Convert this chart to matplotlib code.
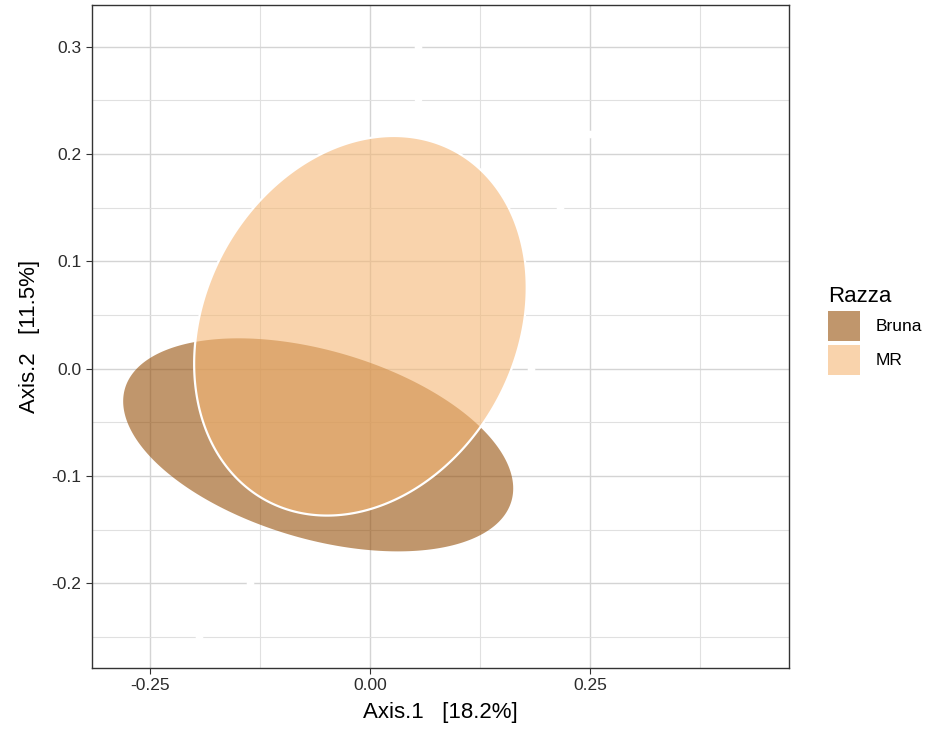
import numpy as np
import matplotlib.pyplot as plt
from matplotlib.patches import Polygon, Patch

# PCoA ordination: group ellipses for each breed
groups = ['Bruna', 'MR']
fill_colors = ['#96500A', '#F5B775']
centers = [(-0.059, -0.071), (-0.011, 0.040)]
covs = [np.array([[0.0491, -0.0090], [-0.0090, 0.00986]]),
        np.array([[0.0357, 0.0067], [0.0067, 0.0313]])]

# sample points (drawn in white)
pts_x = [0.0545, 0.0545, 0.250, 0.216, 0.183, -0.136, -0.194]
pts_y = [0.300, 0.251, 0.219, 0.150, 0.000, -0.200, -0.250]

x_ticks = [-0.25, 0.00, 0.25]
y_ticks = [-0.2, -0.1, 0.0, 0.1, 0.2, 0.3]

plt.rcParams['font.family'] = ['Liberation Sans', 'DejaVu Sans']

fig = plt.figure(figsize=(9.35, 7.36), dpi=100)
ax = fig.add_axes([0.0984, 0.0924, 0.7455, 0.9008])

ax.scatter(pts_x, pts_y, s=30, color='white', zorder=2, linewidths=0)

t = np.linspace(0, 2 * np.pi, 400)
circle = np.vstack([np.cos(t), np.sin(t)])
for c, cov, col, name in zip(centers, covs, fill_colors, groups):
    L = np.linalg.cholesky(cov)
    pts = (L @ circle).T + np.array(c)
    ax.add_patch(Polygon(pts, closed=True, facecolor=col, alpha=0.6,
                         edgecolor='none', zorder=3))
    if name == 'MR':
        ax.add_patch(Polygon(pts, closed=True, facecolor='none',
                             edgecolor='white', linewidth=1.6, zorder=4))

ax.set_xlim(-0.316, 0.476)
ax.set_ylim(-0.279, 0.339)
ax.set_xticks(x_ticks)
ax.set_xticklabels(['-0.25', '0.00', '0.25'])
ax.set_yticks(y_ticks)
ax.set_yticklabels(['-0.2', '-0.1', '0.0', '0.1', '0.2', '0.3'])
ax.set_xticks([-0.125, 0.125, 0.375], minor=True)
ax.set_yticks(np.arange(-0.25, 0.35, 0.1), minor=True)

ax.grid(which='major', color='#D4D4D4', linewidth=1.0, zorder=0)
ax.grid(which='minor', color='#E0E0E0', linewidth=0.8, zorder=0)
ax.set_axisbelow(True)
ax.tick_params(which='minor', length=0)
ax.tick_params(which='major', length=4, color='#333333', labelsize=12.5,
               labelcolor='#2b2b2b', width=0.8)
for s in ax.spines.values():
    s.set_color('#333333')
    s.set_linewidth(1.0)

ax.set_xlabel('Axis.1   [18.2%]', fontsize=16, labelpad=6)
ax.set_ylabel('Axis.2   [11.5%]', fontsize=16, labelpad=8)

handles = [Patch(facecolor=c, alpha=0.6, edgecolor='none') for c in fill_colors]
leg = fig.legend(handles, groups, title='Razza', loc='upper left',
                 bbox_to_anchor=(0.869, 0.632), frameon=False,
                 fontsize=12.5, title_fontsize=16, handlelength=1.85,
                 handleheight=2.3, labelspacing=0.2, handletextpad=0.9)
leg._legend_box.align = 'left'

fig.savefig('out.png', dpi=100)
